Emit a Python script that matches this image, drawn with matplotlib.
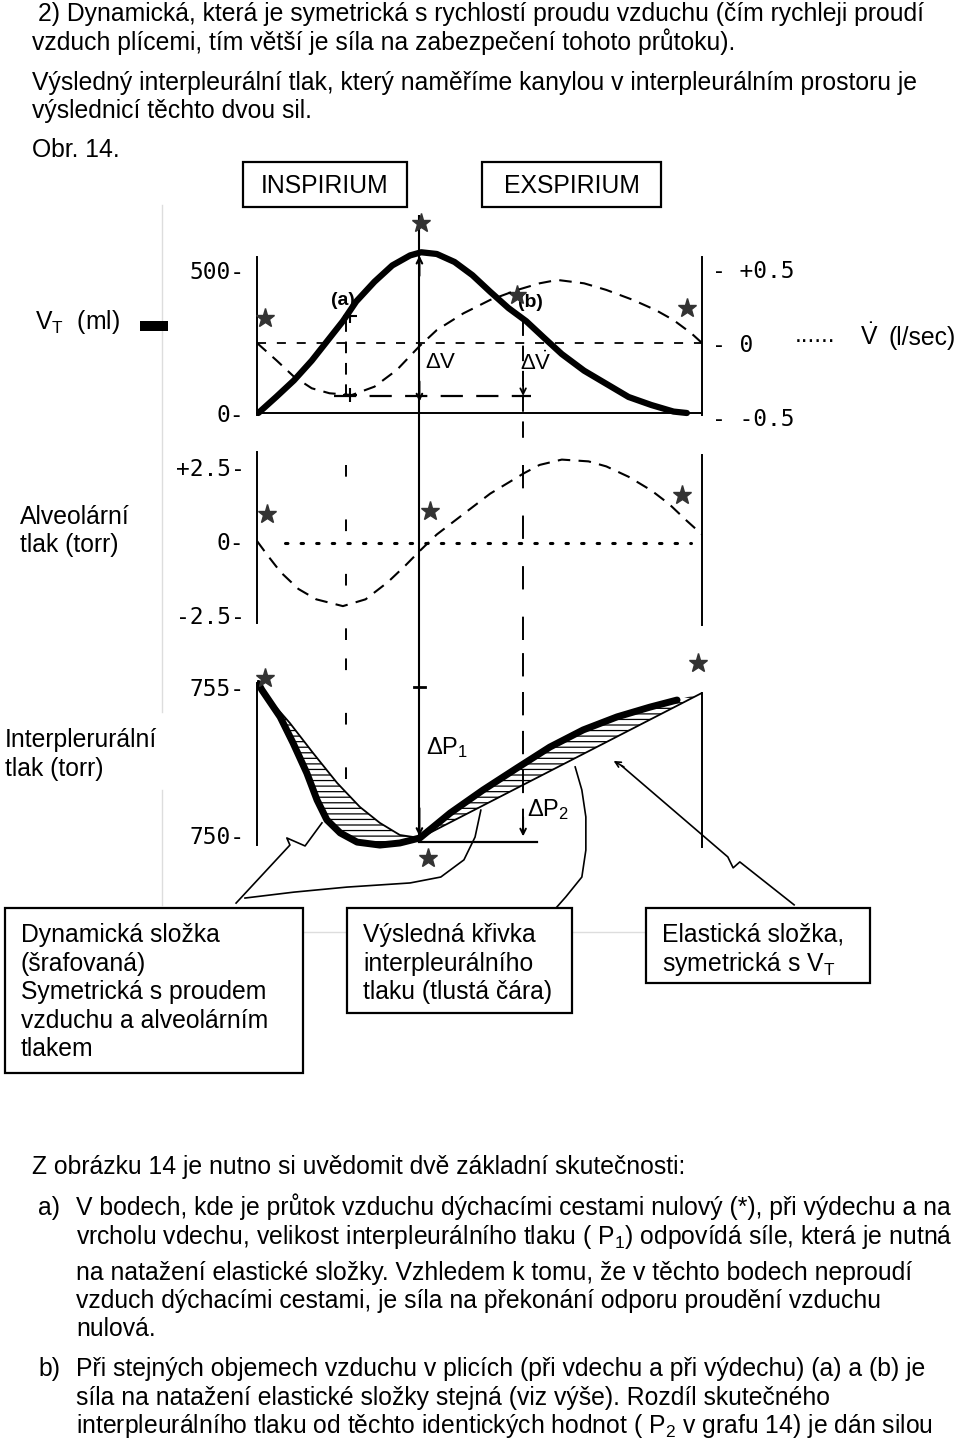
import matplotlib
matplotlib.use('Agg')
import matplotlib.pyplot as plt
from matplotlib.patches import Rectangle
from matplotlib.lines import Line2D

plt.rcParams['font.family'] = ['Liberation Sans', 'DejaVu Sans']
plt.rcParams['mathtext.fontset'] = 'custom'
plt.rcParams['mathtext.rm'] = 'Liberation Sans'
plt.rcParams['mathtext.it'] = 'Liberation Sans:italic'
plt.rcParams['mathtext.bf'] = 'Liberation Sans:bold'
plt.rcParams['hatch.linewidth'] = 0.9

W, H = 960, 1442
X_LEFT, X_RIGHT = 257, 702   # pixel position of t=0 and t=1 (one breath)
FS = 17.8                    # page text size
TICK_FS = 16.5

# ---------------- data (t = fraction of the breathing cycle) ----------------
# tidal volume V_T (ml), thick line
t_vt = [0.003, 0.043, 0.083, 0.123, 0.158, 0.193, 0.223, 0.264, 0.304, 0.344, 0.369,
        0.404, 0.444, 0.484, 0.524, 0.565, 0.605, 0.645, 0.685, 0.735, 0.785, 0.835,
        0.886, 0.936, 0.966]
vt_ml = [0, 56, 114, 183, 252, 321, 390, 459, 516, 551, 562,
         556, 528, 482, 424, 367, 321, 263, 206, 148, 102, 56,
         28, 5, 0]

# air flow V-dot (l/sec), dashed line
t_flow = [0.0, 0.043, 0.083, 0.123, 0.163, 0.213, 0.264, 0.314, 0.364, 0.404, 0.464,
          0.524, 0.585, 0.635, 0.675, 0.735, 0.785, 0.845, 0.896, 0.936, 0.976, 1.0]
flow_ls = [0.0, -0.116, -0.229, -0.308, -0.342, -0.354, -0.297, -0.184, -0.025, 0.088, 0.202,
           0.293, 0.361, 0.406, 0.429, 0.406, 0.361, 0.293, 0.224, 0.156, 0.066, 0.0]

# alveolar pressure (torr), dashed line
t_alv = [0.0, 0.023, 0.053, 0.093, 0.133, 0.193, 0.244, 0.294, 0.334, 0.364, 0.404, 0.464,
         0.524, 0.6, 0.635, 0.685, 0.745, 0.785, 0.835, 0.886, 0.926, 0.966, 1.0]
alv_torr = [0.0, -0.47, -1.05, -1.62, -1.97, -2.2, -1.97, -1.39, -0.82, -0.36, 0.22, 0.91,
            1.6, 2.29, 2.57, 2.75, 2.69, 2.52, 2.17, 1.71, 1.25, 0.68, 0.22]

# resulting interpleural pressure (torr), thick line
t_res = [0.003, 0.011, 0.052, 0.081, 0.112, 0.135, 0.157, 0.187, 0.225, 0.276, 0.321, 0.366,
         0.434, 0.508, 0.584, 0.658, 0.733, 0.809, 0.883, 0.944]
res_torr = [755.12, 754.90, 753.99, 753.11, 752.09, 751.18, 750.51, 750.07, 749.76, 749.66, 749.73,
            749.90, 750.74, 751.52, 752.26, 752.97, 753.55, 753.99, 754.32, 754.56]

# elastic component (torr), thin line
t_el = [0.003, 0.013, 0.074, 0.126, 0.180, 0.231, 0.276, 0.321, 0.366, 1.0]
el_torr = [755.12, 754.83, 753.78, 752.77, 751.76, 750.95, 750.41, 750.00, 749.90, 754.80]

# zero-flow points (*)
star_t_vt = [0.018, 0.369, 0.584, 0.966]
star_vt = [332, 664, 413, 367]
star_t_alv = [0.022, 0.389, 0.955]
star_alv = [0.9, 1.03, 1.55]
star_t_res = [0.018, 0.384, 0.991]
star_res = [755.3, 749.22, 755.81]

T_PEAK, T_A, T_B = 0.365, 0.2, 0.598
FLOW_DV = -0.36
P_BASE = 749.76

# pointer lines from the captions (in panel 3 units)
ptr_a_t = [-0.047, 0.074, 0.067, 0.108, 0.146]
ptr_a_p = [747.70, 749.66, 749.90, 749.63, 750.41]
ptr_b_t = [-0.027, 0.083, 0.202, 0.344, 0.413, 0.465, 0.490, 0.503]
ptr_b_p = [747.87, 748.07, 748.24, 748.38, 748.58, 749.16, 749.93, 750.84]
ptr_c_t = [0.674, 0.694, 0.730, 0.739, 0.739, 0.730, 0.715]
ptr_c_p = [747.57, 747.91, 748.58, 749.49, 750.61, 751.52, 752.30]
ptr_d_t = [1.207, 1.085, 1.070, 1.058, 0.820]
ptr_d_p = [747.64, 749.09, 748.89, 749.26, 752.33]

top_lines = [
    (38, 12, "2) Dynamická, která je symetrická s rychlostí proudu vzduchu (čím rychleji proudí"),
    (32, 41, "vzduch plícemi, tím větší je síla na zabezpečení tohoto průtoku)."),
    (32, 81, "Výsledný interpleurální tlak, který naměříme kanylou v interpleurálním prostoru je"),
    (32, 109, "výslednicí těchto dvou sil."),
    (32, 148, "Obr. 14."),
]
bottom_lines = [
    (32, 1165, "Z obrázku 14 je nutno si uvědomit dvě základní skutečnosti:"),
    (38, 1206, "a)"),
    (76, 1206, "V bodech, kde je průtok vzduchu dýchacími cestami nulový (*), při výdechu a na"),
    (76, 1235, "vrcholu vdechu, velikost interpleurálního tlaku ( P$_1$) odpovídá síle, která je nutná"),
    (76, 1271, "na natažení elastické složky. Vzhledem k tomu, že v těchto bodech neproudí"),
    (76, 1299, "vzduch dýchacími cestami, je síla na překonání odporu proudění vzduchu"),
    (76, 1327, "nulová."),
    (38, 1367, "b)"),
    (76, 1367, "Při stejných objemech vzduchu v plicích (při vdechu a při výdechu) (a) a (b) je"),
    (76, 1396, "síla na natažení elastické složky stejná (viz výše). Rozdíl skutečného"),
    (76, 1424, "interpleurálního tlaku od těchto identických hodnot ( P$_2$ v grafu 14) je dán silou"),
]
caption_boxes = [
    ((5, 908, 298, 165), ["Dynamická složka", "(šrafovaná)", "Symetrická s proudem",
                          "vzduchu a alveolárním", "tlakem"]),
    ((347, 908, 225, 105), ["Výsledná křivka", "interpleurálního", "tlaku (tlustá čára)"]),
    ((646, 908, 224, 75), ["Elastická složka,", "symetrická s V$_\\mathrm{T}$"]),
]

fig = plt.figure(figsize=(W / 100, H / 100), dpi=100)
fig.patch.set_facecolor('white')


def fx(x):
    return x / W


def fy(y):
    return 1 - y / H


def ftext(x, y, s, **kw):
    # y is the visual middle of the capital letters
    kw.setdefault('fontsize', FS)
    fig.text(fx(x), fy(y + 0.5 * kw['fontsize']), s, va='baseline', **kw)


def add_panel(top, bottom, ref_a, ref_b):
    (ya, va), (yb, vb) = ref_a, ref_b
    k = (vb - va) / (yb - ya)

    def to_val(y):
        return va + (y - ya) * k

    ax = fig.add_axes([fx(X_LEFT), fy(bottom), (X_RIGHT - X_LEFT) / W, (bottom - top) / H])
    ax.set_xlim(0, 1)
    ax.set_ylim(to_val(bottom), to_val(top))
    ax.patch.set_visible(False)
    for s in ax.spines.values():
        s.set_visible(False)
        s.set_linewidth(1.4)
    ax.set_xticks([])
    ax.tick_params(axis='y', length=0, pad=9, labelsize=TICK_FS, labelfontfamily='DejaVu Sans Mono')
    return ax, to_val


STAR = dict(marker='*', ms=14, color='#333333', ls='none', clip_on=False, zorder=5)

# ---------------- panel 1: V_T and V-dot ----------------
ax1, v1 = add_panel(205, 437, (413, 0), (270, 500))
ax1.set_yticks([0, 500], ['0-', '500-'])
ax1.spines['left'].set_visible(True)
ax1.spines['left'].set_bounds(v1(415), v1(257))
ax1.spines['bottom'].set_visible(True)
ax1.spines['bottom'].set_position(('data', 0))
ax1.spines['bottom'].set_bounds(0, 1)

ax1r = ax1.twinx()
_, f1 = add_panel(205, 437, (343, 0), (269.5, 0.5))
fig.delaxes(_)
ax1r.set_ylim(f1(437), f1(205))
ax1r.patch.set_visible(False)
for s in ax1r.spines.values():
    s.set_visible(False)
ax1r.spines['right'].set_visible(True)
ax1r.spines['right'].set_linewidth(1.4)
ax1r.spines['right'].set_bounds(f1(415), f1(257))
ax1r.set_yticks([-0.5, 0, 0.5], ['- -0.5', '- 0', '- +0.5'])
ax1r.tick_params(axis='y', length=0, pad=7, labelsize=TICK_FS, labelfontfamily='DejaVu Sans Mono')

ax1.plot(t_vt, vt_ml, color='black', lw=4.5, solid_capstyle='round', solid_joinstyle='round', zorder=4)
ax1r.plot(t_flow, flow_ls, color='black', lw=1.5, dashes=(6, 4))
ax1r.plot([0, 1], [0, 0], color='black', lw=1.3, dashes=(5, 6))
ax1r.plot([0.173, 0.615], [FLOW_DV, FLOW_DV], color='black', lw=1.6, dashes=(10, 6))
ax1.plot(star_t_vt, star_vt, **STAR)

ax1.vlines(T_PEAK, v1(437), v1(215), color='black', lw=1.5, clip_on=False)
ax1.annotate('', xy=(T_PEAK, 560), xytext=(T_PEAK, 470),
             arrowprops=dict(arrowstyle='->', color='black', lw=1.5))
ax1.annotate('', xy=(T_PEAK, 30), xytext=(T_PEAK, 120),
             arrowprops=dict(arrowstyle='->', color='black', lw=1.5))
ax1.vlines(T_A, 60, 321, color='black', lw=1.4, linestyles=(0, (6, 5)))
ax1.vlines(T_B, v1(437), 321, color='black', lw=1.4, linestyles=(0, (8, 5)))
ax1.annotate('', xy=(T_B, 50), xytext=(T_B, 110),
             arrowprops=dict(arrowstyle='->', color='black', lw=1.3))
ax1.plot([T_A + 0.01, T_A + 0.01], [340, 62], marker='+', ms=10, mew=1.5, color='black', ls='none')
ax1.text(0.193, 395, '(a)', fontsize=14, fontweight='bold', ha='center', va='center')
ax1.text(0.614, 388, '(b)', fontsize=14, fontweight='bold', ha='center', va='center')
ax1.text(0.412, 175, '$\\Delta$V', fontsize=16, ha='center', va='center')
ax1.text(0.627, 175, '$\\Delta\\dot{\\mathrm{V}}$', fontsize=16, ha='center', va='center')

# ---------------- panel 2: alveolar pressure ----------------
ax2, v2 = add_panel(437, 640, (541, 0), (467, 2.5))
ax2.set_yticks([-2.5, 0, 2.5], ['-2.5-', '0-', '+2.5-'])
ax2.spines['left'].set_visible(True)
ax2.spines['left'].set_bounds(v2(623), v2(452))
ax2.spines['right'].set_visible(True)
ax2.spines['right'].set_bounds(v2(625), v2(455))
ax2.plot(t_alv, alv_torr, color='black', lw=1.5, dashes=(6, 4))
ax2.plot([0.063, 0.975], [-0.07, -0.07], color='black', lw=2.2, dashes=(0.8, 4.3),
         dash_capstyle='round')
ax2.plot(star_t_alv, star_alv, **STAR)
ax2.axvline(T_PEAK, color='black', lw=1.5)
ax2.axvline(T_A, color='black', lw=1.4, dashes=(6, 22))
ax2.axvline(T_B, color='black', lw=1.4, dashes=(12, 14))

# ---------------- panel 3: interpleural pressure ----------------
ax3, v3 = add_panel(640, 912, (687, 755), (835, 750))
ax3.set_yticks([750, 755], ['750-', '755-'])
ax3.spines['left'].set_visible(True)
ax3.spines['left'].set_bounds(v3(845), v3(683))
ax3.spines['right'].set_visible(True)
ax3.spines['right'].set_bounds(v3(847), v3(693))

n_res = sum(1 for t in t_res if t <= T_PEAK + 0.002)
n_el = sum(1 for t in t_el if t <= T_PEAK + 0.002)
insp_x = t_res[:n_res] + t_el[:n_el][::-1]
insp_y = res_torr[:n_res] + el_torr[:n_el][::-1]
exp_x = t_res[n_res - 1:] + [t_el[-1], t_el[n_el - 1]]
exp_y = res_torr[n_res - 1:] + [el_torr[-1], el_torr[n_el - 1]]
ax3.fill(insp_x, insp_y, facecolor='none', edgecolor='black', hatch='---', lw=0)
ax3.fill(exp_x, exp_y, facecolor='none', edgecolor='black', hatch='---', lw=0)
ax3.plot(t_el, el_torr, color='black', lw=1.3)
ax3.plot(t_res, res_torr, color='black', lw=5, solid_capstyle='round', solid_joinstyle='round', zorder=4)
ax3.plot(star_t_res, star_res, **STAR)

ax3.vlines(T_PEAK, 749.95, v3(640), color='black', lw=1.5)
ax3.annotate('', xy=(T_PEAK, 749.87), xytext=(T_PEAK, 751.0),
             arrowprops=dict(arrowstyle='->', color='black', lw=1.5))
ax3.plot([T_PEAK - 0.012, T_PEAK + 0.012], [755, 755], color='black', lw=2)
ax3.plot([T_PEAK, 0.629], [P_BASE, P_BASE], color='black', lw=1.6)
ax3.vlines(T_A, 751.9, v3(640), color='black', lw=1.4, linestyles=(0, (6, 22)))
ax3.vlines(T_B, 750.1, v3(640), color='black', lw=1.4, linestyles=(0, (12, 8)))
ax3.annotate('', xy=(T_B, P_BASE + 0.1), xytext=(T_B, 750.7),
             arrowprops=dict(arrowstyle='->', color='black', lw=1.4))
ax3.text(0.427, 752.95, '$\\Delta$P$_1$', fontsize=17, ha='center', va='center')
ax3.text(0.655, 750.85, '$\\Delta$P$_2$', fontsize=17, ha='center', va='center')

for px, py in [(ptr_a_t, ptr_a_p), (ptr_b_t, ptr_b_p), (ptr_c_t, ptr_c_p), (ptr_d_t, ptr_d_p)]:
    ax3.plot(px, py, color='black', lw=1.2, clip_on=False)
ax3.annotate('', xy=(0.796, 752.55), xytext=(0.83, 752.25),
             arrowprops=dict(arrowstyle='->', color='black', lw=1.2), annotation_clip=False)

# ---------------- page text ----------------
for x, y, s in top_lines + bottom_lines:
    ftext(x, y, s)

for (bx, by, bw, bh), label in [((243, 162, 164, 45), 'INSPIRIUM'), ((482, 162, 179, 45), 'EXSPIRIUM')]:
    fig.patches.append(Rectangle((fx(bx), fy(by + bh)), bw / W, bh / H, transform=fig.transFigure,
                                 facecolor='white', edgecolor='black', lw=1.6))
    ftext(bx + bw / 2, by + bh / 2, label, ha='center')

for (bx, by, bw, bh), lines in caption_boxes:
    fig.patches.append(Rectangle((fx(bx), fy(by + bh)), bw / W, bh / H, transform=fig.transFigure,
                                 facecolor='white', edgecolor='black', lw=1.6, zorder=3))
    for i, s in enumerate(lines):
        ftext(bx + 16, by + 25 + i * 28.6, s, zorder=4)

# faint connectors between caption boxes and the image border
for xs, ys in [((303, 347), (932, 932)), ((572, 646), (932, 932)),
               ((162, 162), (205, 712)), ((162, 162), (790, 905))]:
    fig.add_artist(Line2D([fx(v) for v in xs], [fy(v) for v in ys], color='#dddddd', lw=1, zorder=1))

ftext(35, 320, 'V$_\\mathrm{T}$  (ml)')
fig.add_artist(Rectangle((fx(140), fy(331)), 28 / W, 10 / H, transform=fig.transFigure,
                         facecolor='black', edgecolor='none', zorder=5))
ftext(795, 333, '......')
ftext(860, 336, '$\\dot{\\mathrm{V}}$')
ftext(888, 336, '(l/sec)')
ftext(20, 515, 'Alveolární')
ftext(20, 543, 'tlak (torr)')
ftext(5, 738, 'Interplerurální')
ftext(5, 767, 'tlak (torr)')

fig.savefig('out.png', dpi=100, facecolor='white')
